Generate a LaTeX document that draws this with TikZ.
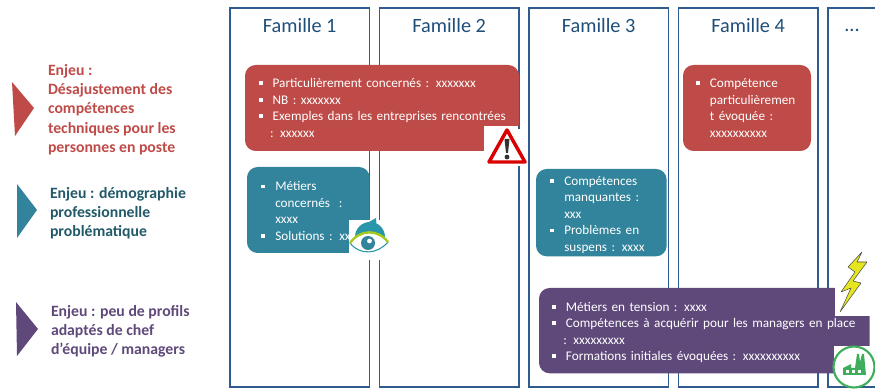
\documentclass[tikz,border=0pt]{standalone}
\usepackage{fontspec}
\setmainfont{Carlito}
\usepackage{xcolor}
\usepackage{tikz}
\usetikzlibrary{positioning,%
  calc,%
  shapes.geometric%
}

\definecolor{cadre}{HTML}{2F5B8F}
\definecolor{titreb}{HTML}{1F4E79}
\definecolor{rouge}{HTML}{BE4B48}
\definecolor{bleu}{HTML}{31849B}
\definecolor{violet}{HTML}{5F497A}
\definecolor{bleut}{HTML}{215968}
\definecolor{vert}{HTML}{3FAE5A}
\definecolor{citron}{HTML}{E6E620}
\definecolor{lime}{HTML}{A6C91E}

\newcommand{\puce}{\rule[.18em]{.3em}{.3em}}
\newcommand{\suite}{\hspace*{-2pt}}
\newenvironment{liste}[1]{\fontsize{9.9}{12.4}\selectfont\color{white}\begin{tabular}{@{}p{10.5pt}@{}l@{}}\noalign{\vskip #1}}{\end{tabular}}

\begin{document}
\begin{tikzpicture}
                    [
                        x=.75pt,y=-.75pt,
                        every node/.style={inner sep=0pt,outer sep=0pt},
                        panneau/.style={draw=cadre,line width=1.3pt,minimum width=104.6pt,minimum height=284pt,anchor=north west},
                        titre/.style={text=titreb,font=\fontsize{15.2}{18}\selectfont},
                        boite/.style={rounded corners=8pt,anchor=north west,align=left},
                        enjeu/.style={font=\fontsize{11.8}{14.6}\selectfont\bfseries,align=left,anchor=north west}
                    ]

                    % cadre de la page
                    \useasboundingbox (0,0) rectangle (875,391);
                    \clip (0,0) rectangle (875,391);

                    % familles
                    \node (famille1) [panneau] at (230,8) {};
                    \node (famille2) [panneau,right=7.5pt of famille1] {};
                    \node (famille3) [panneau,right=7.5pt of famille2] {};
                    \node (famille4) [panneau,right=7.5pt of famille3] {};
                    \node (famille5) [panneau,right=7.5pt of famille4] {};

                    \node (titre1) [titre,below=7.5pt of famille1.north] {Famille 1};
                    \node (titre2) [titre,below=7.5pt of famille2.north] {Famille 2};
                    \node (titre3) [titre,below=7.5pt of famille3.north] {Famille 3};
                    \node (titre4) [titre,below=7.5pt of famille4.north] {Famille 4};
                    \node (titre5) [titre,anchor=base] at (852,32) {...};

                    % enjeux
                    \fill[rouge] (12,82) -- (34,108) -- (15,136) -- cycle;
                    \fill[bleu] (17,184) -- (37,210) -- (17,238) -- cycle;
                    \fill[violet] (16,302) -- (38,329) -- (17,356) -- cycle;

                    \node (enjeu1) [enjeu,text=rouge] at (48,64) {Enjeu :\\Désajustement des\\compétences\\techniques pour les\\personnes en poste};
                    \node (enjeu2) [enjeu,text=bleut] at (50,187) {Enjeu : démographie\\professionnelle\\problématique};
                    \node (enjeu3) [enjeu,text=violet] at (51,305) {Enjeu : peu de profils\\adaptés de chef\\d’équipe / managers};

                    % boites
                    \node (desajust) [boite,fill=rouge,minimum width=205.5pt,minimum height=64.5pt,text width=200pt] at (245,65) {\hspace*{7.5pt}\begin{liste}{1.5pt}
                        \puce & Particulièrement concernés : xxxxxxx\\
                        \puce & NB : xxxxxxx\\
                        \puce & Exemples dans les entreprises rencontrées\\
                        & \suite : xxxxxx
                    \end{liste}};
                    \node (compet) [boite,fill=rouge,minimum width=96pt,minimum height=64.5pt,text width=90pt] at (683,65) {\hspace*{6.7pt}\begin{liste}{1.5pt}
                        \puce & Compétence\\
                        & particulièremen\\
                        & t évoquée :\\
                        & xxxxxxxxxx
                    \end{liste}};
                    \node (metiers) [boite,fill=bleu,minimum width=92pt,minimum height=64.5pt,text width=85pt] at (247,167) {\hspace*{7.2pt}\begin{liste}{3.5pt}
                        \puce & Métiers\\
                        & concernés \ :\\
                        & xxxx\\
                        \puce & Solutions : xxxx
                    \end{liste}};
                    \node (manque) [boite,fill=bleu,minimum width=98pt,minimum height=65.5pt,text width=92pt] at (536,169) {\hspace*{7.7pt}\begin{liste}{3.5pt}
                        \puce & Compétences\\
                        & manquantes :\\
                        & xxx\\
                        \puce & Problèmes en\\
                        & suspens : xxxx
                    \end{liste}};
                    \node (tension) [boite,fill=violet,minimum width=248pt,minimum height=64pt,text width=245pt] at (539,288) {\hspace*{8.2pt}\begin{liste}{3pt}
                        \puce & Métiers en tension : xxxx\\
                        \puce & Compétences à acquérir pour les managers en place\\
                        & \suite : xxxxxxxxx\\
                        \puce & Formations initiales évoquées : xxxxxxxxxx
                    \end{liste}};

                    % attention
                    \fill[white] (484,126) rectangle (528,166);
                    \draw[draw=cadre,line width=1.3pt] (519,126) -- (519,129);
                    \draw[fill=white,draw=red!85!black,line width=2.6pt,line join=round] (507,130) -- (525,162) -- (489,162) -- cycle;
                    \fill[black!80] (504.5,139) -- (509.5,139) -- (508,153) -- (506,153) -- cycle;
                    \fill[black!80] (507,157) circle (2.4);

                    % oeil
                    \fill[white] (349,220) rectangle (390,260);
                    \fill[bleu!85!cyan] (370,237) circle (15);
                    \fill[bleu!85!cyan] (362,226) -- (376,218) -- (377,232) -- cycle;
                    \fill[white] (350,243) .. controls (360,229) and (378,229) .. (388,242) .. controls (378,254) and (360,256) .. (350,243) -- cycle;
                    \draw[bleu!85!cyan,line width=.8pt] (350,243) .. controls (360,256) and (378,254) .. (388,242);
                    \draw[lime,line width=1.8pt] (350,243) .. controls (360,229) and (378,229) .. (388,242);
                    \fill[bleu] (368,243) circle (7);
                    \fill[white] (369.5,241) circle (2.4);

                    % eclair
                    \fill[white] (835,248) rectangle (875,316);
                    \draw[fill=citron,draw=black!70,line width=.4pt,line join=round] (862,252) -- (848,267) -- (855,272) -- (841,292) -- (851,288) -- (840,312) -- (861,283) -- (853,281) -- (867,262) -- (857,262) -- cycle;

                    % usine
                    \fill[white] (834,346) rectangle (875,385);
                    \draw[draw=vert,fill=white,line width=1.6pt] (854,367) circle (20.5);
                    \fill[vert] (843,375) -- (843,368) -- (851,364) -- (851,368) -- (855,368) -- (857,354) -- (859,354) -- (860,362) -- (862,354) -- (864,354) -- (866,375) -- cycle;
                    \fill[white] (846,370) rectangle (849,373);
                    \fill[white] (852,370) rectangle (855,373);
                    \fill[white] (858,370) rectangle (861,373);
                \end{tikzpicture}
\end{document}
